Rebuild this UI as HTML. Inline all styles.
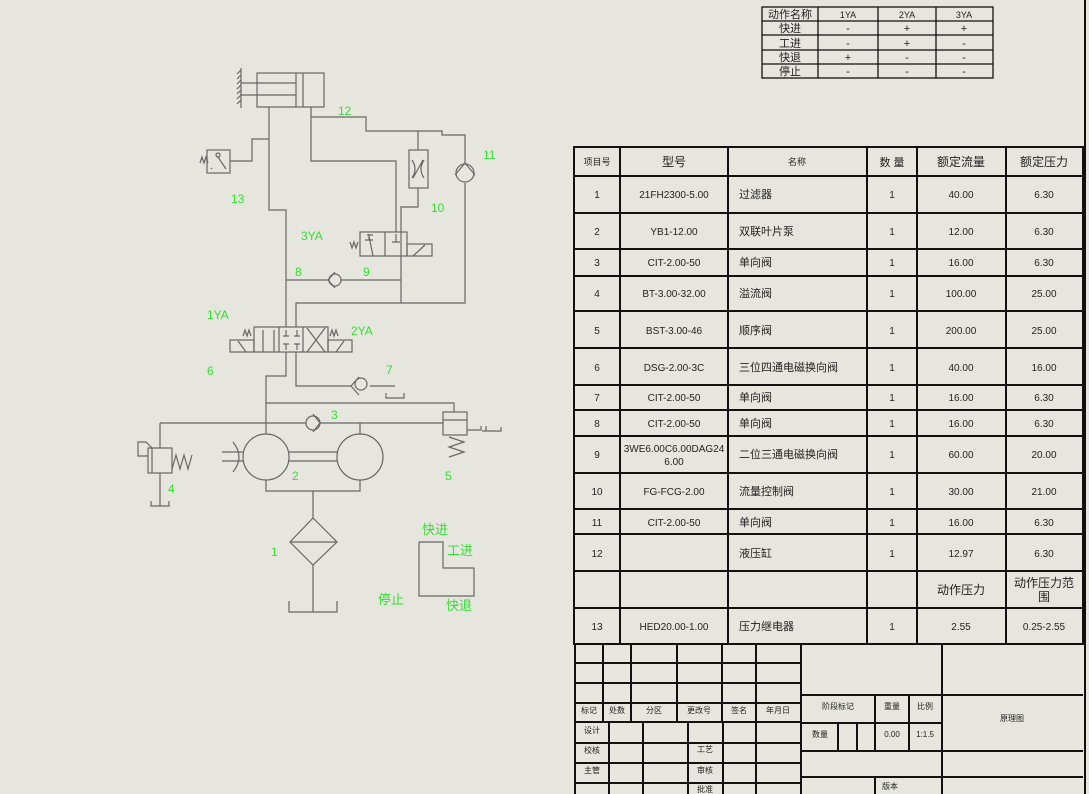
<!DOCTYPE html>
<html><head><meta charset="utf-8"><style>
html,body{margin:0;padding:0;background:#e6e6de;}
svg{display:block}
.t{font-family:"Liberation Sans","Noto Sans CJK SC",sans-serif;fill:#222;}
.g{font-family:"Liberation Sans","Noto Sans CJK SC",sans-serif;fill:#33e033;font-size:12px;}
</style></head><body>
<svg width="1089" height="794" viewBox="0 0 1089 794" xmlns="http://www.w3.org/2000/svg">
<rect width="1089" height="794" fill="#e6e6de"/>
<line x1="1085" y1="0" x2="1085" y2="794" stroke="#111" stroke-width="2"/>

<!-- Action table -->
<g stroke="#111" stroke-width="1.3" fill="none">
<rect x="762" y="7" width="231" height="71"/>
<line x1="818" y1="7" x2="818" y2="78"/><line x1="878" y1="7" x2="878" y2="78"/><line x1="936" y1="7" x2="936" y2="78"/>
<line x1="762" y1="21" x2="993" y2="21"/><line x1="762" y1="35" x2="993" y2="35"/><line x1="762" y1="50" x2="993" y2="50"/><line x1="762" y1="64" x2="993" y2="64"/>
</g>
<g class="t" font-size="11" text-anchor="middle">
<text x="790" y="18">动作名称</text><text x="848" y="18" font-size="9">1YA</text><text x="907" y="18" font-size="9">2YA</text><text x="964" y="18" font-size="9">3YA</text>
<text x="790" y="32">快进</text><text x="848" y="32">-</text><text x="907" y="32">+</text><text x="964" y="32">+</text>
<text x="790" y="47">工进</text><text x="848" y="47">-</text><text x="907" y="47">+</text><text x="964" y="47">-</text>
<text x="790" y="61">快退</text><text x="848" y="61">+</text><text x="907" y="61">-</text><text x="964" y="61">-</text>
<text x="790" y="75">停止</text><text x="848" y="75">-</text><text x="907" y="75">-</text><text x="964" y="75">-</text>
</g>

<!-- Parts table -->
<g stroke="#111" stroke-width="2" fill="none">
<rect x="574" y="147" width="509" height="497"/>
<line x1="620" y1="147" x2="620" y2="644"/><line x1="728" y1="147" x2="728" y2="644"/><line x1="867" y1="147" x2="867" y2="644"/><line x1="917" y1="147" x2="917" y2="644"/><line x1="1006" y1="147" x2="1006" y2="644"/>
<line x1="574" y1="176" x2="1083" y2="176"/><line x1="574" y1="213" x2="1083" y2="213"/><line x1="574" y1="249" x2="1083" y2="249"/><line x1="574" y1="276" x2="1083" y2="276"/><line x1="574" y1="311" x2="1083" y2="311"/><line x1="574" y1="348" x2="1083" y2="348"/><line x1="574" y1="385" x2="1083" y2="385"/><line x1="574" y1="410" x2="1083" y2="410"/><line x1="574" y1="436" x2="1083" y2="436"/><line x1="574" y1="473" x2="1083" y2="473"/><line x1="574" y1="509" x2="1083" y2="509"/><line x1="574" y1="534" x2="1083" y2="534"/><line x1="574" y1="571" x2="1083" y2="571"/><line x1="574" y1="608" x2="1083" y2="608"/>
</g>
<g class="t" font-size="10" text-anchor="middle">
<text x="597" y="165" font-size="9">项目号</text><text x="674" y="166" font-size="12">型号</text><text x="797" y="165" font-size="9">名称</text><text x="892" y="166" font-size="11">数 量</text><text x="961" y="166" font-size="12">额定流量</text><text x="1044" y="166" font-size="12">额定压力</text>
<text x="597" y="198">1</text><text x="674" y="198">21FH2300-5.00</text><text x="892" y="198">1</text><text x="961" y="198">40.00</text><text x="1044" y="198">6.30</text>
<text x="597" y="235">2</text><text x="674" y="235">YB1-12.00</text><text x="892" y="235">1</text><text x="961" y="235">12.00</text><text x="1044" y="235">6.30</text>
<text x="597" y="266">3</text><text x="674" y="266">CIT-2.00-50</text><text x="892" y="266">1</text><text x="961" y="266">16.00</text><text x="1044" y="266">6.30</text>
<text x="597" y="297">4</text><text x="674" y="297">BT-3.00-32.00</text><text x="892" y="297">1</text><text x="961" y="297">100.00</text><text x="1044" y="297">25.00</text>
<text x="597" y="334">5</text><text x="674" y="334">BST-3.00-46</text><text x="892" y="334">1</text><text x="961" y="334">200.00</text><text x="1044" y="334">25.00</text>
<text x="597" y="371">6</text><text x="674" y="371">DSG-2.00-3C</text><text x="892" y="371">1</text><text x="961" y="371">40.00</text><text x="1044" y="371">16.00</text>
<text x="597" y="401">7</text><text x="674" y="401">CIT-2.00-50</text><text x="892" y="401">1</text><text x="961" y="401">16.00</text><text x="1044" y="401">6.30</text>
<text x="597" y="427">8</text><text x="674" y="427">CIT-2.00-50</text><text x="892" y="427">1</text><text x="961" y="427">16.00</text><text x="1044" y="427">6.30</text>
<text x="597" y="458">9</text><text x="674" y="452">3WE6.00C6.00DAG24</text><text x="674" y="465">6.00</text><text x="892" y="458">1</text><text x="961" y="458">60.00</text><text x="1044" y="458">20.00</text>
<text x="597" y="495">10</text><text x="674" y="495">FG-FCG-2.00</text><text x="892" y="495">1</text><text x="961" y="495">30.00</text><text x="1044" y="495">21.00</text>
<text x="597" y="526">11</text><text x="674" y="526">CIT-2.00-50</text><text x="892" y="526">1</text><text x="961" y="526">16.00</text><text x="1044" y="526">6.30</text>
<text x="597" y="557">12</text><text x="892" y="557">1</text><text x="961" y="557">12.97</text><text x="1044" y="557">6.30</text>
<text x="961" y="594" font-size="12">动作压力</text><text x="1044" y="587" font-size="12">动作压力范</text><text x="1044" y="601" font-size="12">围</text>
<text x="597" y="630">13</text><text x="674" y="630">HED20.00-1.00</text><text x="892" y="630">1</text><text x="961" y="630">2.55</text><text x="1044" y="630">0.25-2.55</text>
</g>
<g class="t" font-size="11">
<text x="739" y="198">过滤器</text><text x="739" y="235">双联叶片泵</text><text x="739" y="266">单向阀</text><text x="739" y="297">溢流阀</text><text x="739" y="334">顺序阀</text><text x="739" y="371">三位四通电磁换向阀</text><text x="739" y="401">单向阀</text><text x="739" y="427">单向阀</text><text x="739" y="458">二位三通电磁换向阀</text><text x="739" y="495">流量控制阀</text><text x="739" y="526">单向阀</text><text x="739" y="557">液压缸</text><text x="739" y="630">压力继电器</text>
</g>

<!-- Title block -->
<g stroke="#111" stroke-width="2" fill="none">
<line x1="575" y1="644" x2="575" y2="794"/><line x1="801" y1="644" x2="801" y2="794"/><line x1="942" y1="644" x2="942" y2="794"/>
<line x1="603" y1="644" x2="603" y2="722"/><line x1="631" y1="644" x2="631" y2="722"/><line x1="677" y1="644" x2="677" y2="722"/><line x1="722" y1="644" x2="722" y2="722"/><line x1="756" y1="644" x2="756" y2="794"/>
<line x1="609" y1="722" x2="609" y2="794"/><line x1="643" y1="722" x2="643" y2="794"/><line x1="688" y1="722" x2="688" y2="794"/><line x1="723" y1="722" x2="723" y2="794"/>
<line x1="575" y1="663" x2="801" y2="663"/><line x1="575" y1="683" x2="801" y2="683"/><line x1="575" y1="703" x2="801" y2="703"/><line x1="575" y1="722" x2="801" y2="722"/><line x1="575" y1="743" x2="801" y2="743"/><line x1="575" y1="763" x2="801" y2="763"/><line x1="575" y1="783" x2="801" y2="783"/>
<line x1="801" y1="695" x2="1083" y2="695"/><line x1="801" y1="723" x2="942" y2="723"/><line x1="801" y1="751" x2="1083" y2="751"/><line x1="801" y1="777" x2="1083" y2="777"/>
<line x1="875" y1="695" x2="875" y2="751"/><line x1="909" y1="695" x2="909" y2="751"/><line x1="838" y1="723" x2="838" y2="751"/><line x1="857" y1="723" x2="857" y2="751"/><line x1="875" y1="777" x2="875" y2="794"/>
</g>
<g class="t" font-size="8" text-anchor="middle">
<text x="589" y="713">标记</text><text x="617" y="713">处数</text><text x="654" y="713">分区</text><text x="699" y="713">更改号</text><text x="739" y="713">签名</text><text x="778" y="713">年月日</text>
<text x="592" y="733">设计</text><text x="592" y="753">校核</text><text x="705" y="752">工艺</text><text x="592" y="773">主管</text><text x="705" y="773">审核</text><text x="705" y="792">批准</text>
<text x="838" y="709">阶段标记</text><text x="892" y="709">重量</text><text x="925" y="709">比例</text><text x="820" y="737">数量</text><text x="892" y="737">0.00</text><text x="925" y="737">1:1.5</text>
<text x="1012" y="721">原理图</text><text x="890" y="789">版本</text>
</g>

<!-- Schematic -->
<g stroke="#666" stroke-width="1.2" fill="none">
<!-- cylinder -->
<rect x="257" y="73" width="67" height="34"/><line x1="296" y1="73" x2="296" y2="107"/><line x1="303" y1="73" x2="303" y2="107"/>
<line x1="241" y1="83" x2="296" y2="83"/><line x1="241" y1="95" x2="296" y2="95"/>
<line x1="241" y1="68" x2="241" y2="108"/>
<path d="M241 70l-4 4M241 75l-4 4M241 80l-4 4M241 85l-4 4M241 90l-4 4M241 95l-4 4M241 100l-4 4"/>
<polyline points="269,107 269,210 286,210 286,327"/>
<polyline points="269,139 252,139 252,161 230,161"/>
<rect x="207" y="150" width="23" height="23"/><path d="M200 163l2 -6 2 6 2 -6 2 6M218 157l8 12M211 168l1 1"/><circle cx="218" cy="155" r="2"/>
<polyline points="311,107 311,161 396,161 396,232"/>
<polyline points="311,117 366,117 366,131 442,131 442,135 465,135 465,163"/>
<polyline points="465,183 465,303 296,303 296,327"/>
<circle cx="465" cy="173" r="9"/><path d="M455 175l10 -12 10 12"/>
<polyline points="418,131 418,150"/><rect x="409" y="150" width="19" height="38"/>
<path d="M412 178q6 -9 0 -18M424 178q-6 -9 0 -18M413 178l10 -18"/>
<polyline points="418,188 418,207 401,207 401,303"/>
<!-- valve 9 -->
<rect x="360" y="232" width="47" height="24"/><line x1="385" y1="232" x2="385" y2="256"/>
<rect x="407" y="244" width="25" height="12"/><line x1="413" y1="256" x2="425" y2="245"/>
<path d="M369 236l4 20M373 235h-6M396 234v8M392 242h8M369 234v6M365 240h8"/>
<path d="M350 242l2 6 2 -6 2 6 2 -6"/>
<!-- check 8 -->
<line x1="286" y1="280" x2="401" y2="280"/><circle cx="335" cy="280" r="6" fill="#e6e6de"/><path d="M328 280l7 -8M328 280l7 8"/>
<!-- valve 6 -->
<rect x="254" y="327" width="74" height="25"/><line x1="279" y1="327" x2="279" y2="352"/><line x1="303" y1="327" x2="303" y2="352"/>
<rect x="230" y="340" width="24" height="12"/><rect x="328" y="340" width="24" height="12"/>
<path d="M238 341l8 11M336 352l8 -11M263 330v22M274 330v22M307 328l18 24M325 328l-18 24M283 336h6M286 336v-6M294 336h6M297 336v-6M283 344h6M286 344v6M294 344h6M297 344v6"/>
<path d="M243 336l2 -6 2 6 2 -6 2 6M330 336l2 -6 2 6 2 -6 2 6"/>
<polyline points="286,352 286,376 266,376 266,434"/>
<polyline points="296,352 296,386 351,386"/><line x1="370" y1="386" x2="395" y2="386"/>
<circle cx="361" cy="384" r="6"/><path d="M351 386l8 -9M351 386l8 9"/><path d="M386 393v5h18v-5"/>
<!-- pumps area -->
<polyline points="266,403 454,403 454,412"/>
<line x1="160" y1="423" x2="443" y2="423"/><circle cx="313" cy="423" r="7" fill="#e6e6de"/><path d="M320 423l-7 -9M320 423l-7 9"/>
<line x1="360" y1="423" x2="360" y2="434"/>
<rect x="443" y="412" width="24" height="23"/><line x1="443" y1="420" x2="467" y2="420"/>
<path d="M467 430h14v-4M482 431h19v-4M486 426v5M449 437l15 5-15 5 15 5-15 5"/>
<polyline points="160,423 160,448"/><rect x="148" y="448" width="24" height="25"/><line x1="152" y1="448" x2="152" y2="473"/>
<path d="M148 456l-10 0 0 -14 8 0 6 6M172 469l4 -14 4 14 4 -14 4 14 4 -14"/>
<polyline points="160,473 160,506"/><path d="M151 501v5h18v-5"/>
<circle cx="266" cy="457" r="23"/><circle cx="360" cy="457" r="23"/>
<line x1="289" y1="452" x2="337" y2="452"/><line x1="289" y1="461" x2="337" y2="461"/>
<path d="M233 442q12 15 0 30M222 452h21M222 461h21"/>
<polyline points="266,480 266,491 360,491 360,480"/>
<line x1="313" y1="491" x2="313" y2="518"/>
<polygon points="313,518 337,542 313,565 290,542"/><line x1="290" y1="542" x2="337" y2="542"/>
<line x1="313" y1="565" x2="313" y2="612"/><polyline points="289,601 289,612 337,612 337,601"/>
<!-- motion diagram -->
<polyline points="419,542 443,542 443,568 474,568 474,596 419,596 419,542"/>
</g>
<g class="g">
<text x="338" y="115">12</text><text x="483" y="159">11</text><text x="231" y="203">13</text><text x="431" y="212">10</text>
<text x="301" y="240">3YA</text><text x="295" y="276">8</text><text x="363" y="276">9</text>
<text x="207" y="319">1YA</text><text x="351" y="335">2YA</text><text x="207" y="375">6</text><text x="386" y="374">7</text>
<text x="331" y="419">3</text><text x="292" y="480">2</text><text x="445" y="480">5</text><text x="168" y="493">4</text>
<text x="271" y="556">1</text>
<text x="422" y="534" font-size="13">快进</text><text x="447" y="555" font-size="13">工进</text><text x="378" y="604" font-size="13">停止</text><text x="446" y="610" font-size="13">快退</text>
</g>
</svg>
</body></html>
